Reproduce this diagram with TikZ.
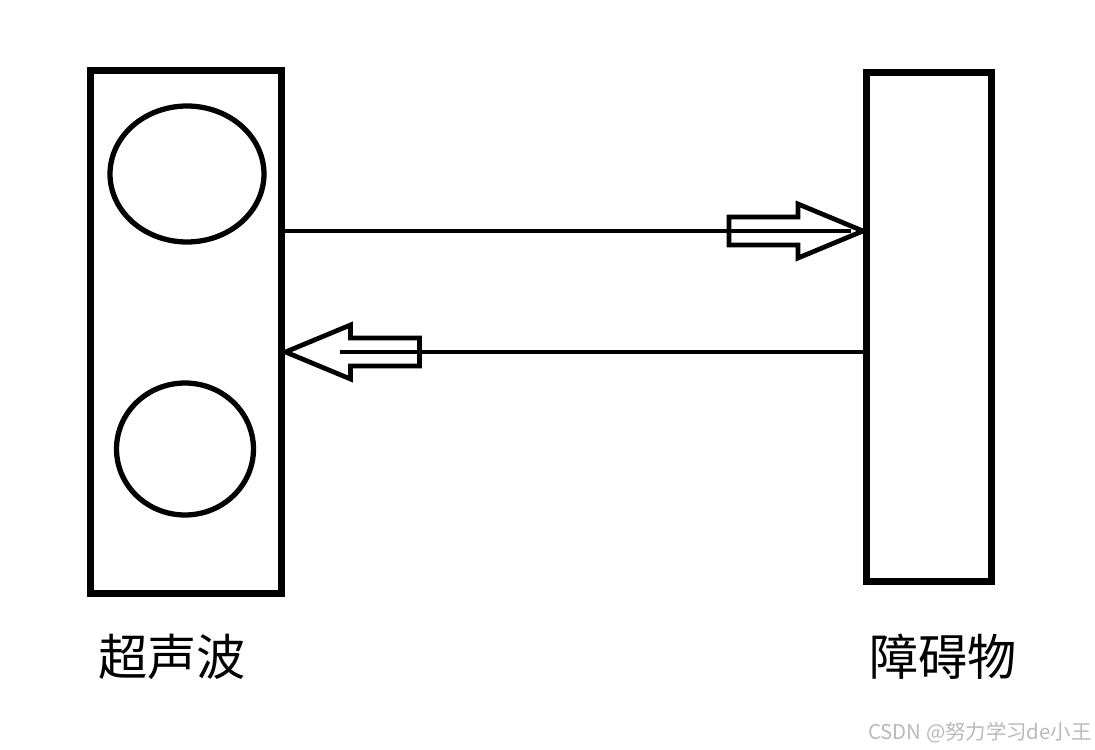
\documentclass[tikz,border=0pt]{standalone}
\usepackage{fontspec}
\newfontfamily\cjk{Noto Sans CJK SC}
\usetikzlibrary{calc, shapes.geometric}
\definecolor{markgray}{RGB}{185,185,185}

\tikzset{
  frame/.style={draw, line width=4pt, minimum width=#1},
  lens/.style={draw, ellipse, line width=3pt, inner sep=0pt},
  wave/.style={line width=2.6pt},
  hollow/.style={draw, fill=white, line width=2.7pt, line join=miter},
  blockarrow/.pic={
    \path[hollow] (0,0) -- (-65,-27) -- (-65,-14) -- (-134,-14)
      -- (-134,14) -- (-65,14) -- (-65,27) -- cycle;
  }
}

\begin{document}
\begin{tikzpicture}[x=0.02cm, y=-0.02cm]
  \useasboundingbox (0,0) rectangle (1095,750);

  % sensor and obstacle
  \node[frame=3.84cm, minimum height=10.48cm] (sensor) at (186,332) {};
  \node[frame=2.5cm, minimum height=10.19cm] (obstacle) at (929,327) {};
  \node[lens, minimum width=3.08cm, minimum height=2.72cm] (emitter) at (187,174) {};
  \node[lens, minimum width=2.74cm, minimum height=2.64cm] (receiver) at (185,449) {};

  % outgoing and returning waves
  \coordinate (sendtip) at (obstacle.west |- 0,231);
  \coordinate (backtip) at (sensor.east |- 0,352);
  \draw[wave] (sensor.east |- sendtip) -- (sendtip);
  \pic at (sendtip) {blockarrow};
  \draw[wave] ($(sendtip)+(-134,0)$) -- ($(sendtip)+(-12,0)$);
  \draw[wave] (obstacle.west |- backtip) -- ($(backtip)+(134,0)$);
  \pic[xscale=-1] at (backtip) {blockarrow};
  \draw[wave] ($(backtip)+(134,0)$) -- ($(backtip)+(55,0)$);

  % labels
  \node[font=\cjk\fontsize{28}{34}\selectfont] (sensorlabel) at (172,657) {超声波};
  \node[font=\cjk\fontsize{28}{34}\selectfont] (obstaclelabel) at (943,657) {障碍物};
  \node[font=\cjk\fontsize{11.6}{14}\selectfont, text=markgray, anchor=east, inner sep=0pt] (mark) at (1092,733) {CSDN @努力学习de小王};
\end{tikzpicture}
\end{document}
